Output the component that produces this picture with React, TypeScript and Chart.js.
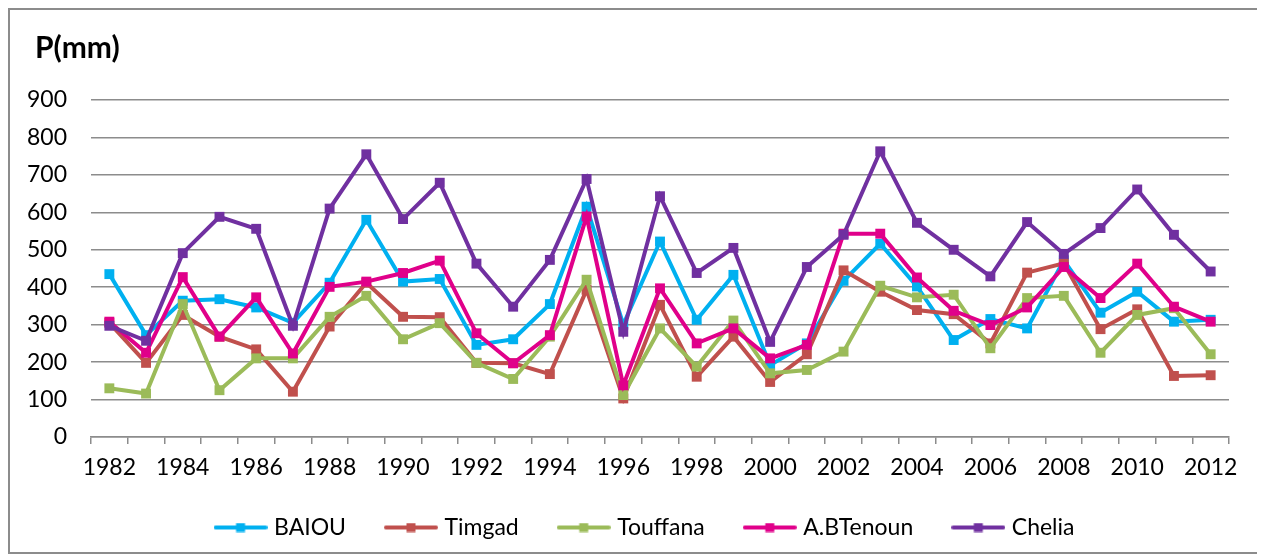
import React, { useEffect, useRef } from "react";
import { Chart, registerables } from "chart.js";

Chart.register(...registerables);

const years = [
  "1982", "1983", "1984", "1985", "1986", "1987", "1988", "1989", "1990", "1991",
  "1992", "1993", "1994", "1995", "1996", "1997", "1998", "1999", "2000", "2001",
  "2002", "2003", "2004", "2005", "2006", "2007", "2008", "2009", "2010", "2011", "2012",
];

const baiou = [435, 272, 364, 368, 346, 305, 412, 580, 415, 422, 246, 261, 355, 615, 300, 522, 313, 433, 192, 250, 417, 516, 402, 259, 315, 290, 472, 332, 388, 308, 313];
const timgad = [305, 198, 326, 268, 234, 121, 295, 412, 321, 320, 198, 197, 168, 393, 103, 353, 161, 268, 147, 221, 445, 388, 339, 328, 250, 439, 464, 288, 341, 163, 165];
const touffana = [130, 116, 355, 125, 210, 210, 321, 377, 261, 304, 198, 155, 268, 420, 112, 290, 188, 311, 170, 179, 228, 404, 373, 380, 237, 371, 377, 225, 326, 344, 221];
const abtenoun = [308, 225, 427, 268, 373, 223, 401, 415, 438, 471, 277, 197, 272, 589, 138, 397, 250, 290, 210, 246, 543, 543, 426, 337, 299, 346, 454, 371, 463, 348, 308];
const chelia = [297, 257, 491, 588, 556, 297, 610, 755, 582, 679, 463, 348, 473, 689, 281, 643, 438, 505, 254, 454, 540, 763, 572, 500, 429, 574, 489, 558, 661, 540, 442];

const seriesNames = ["BAIOU", "Timgad", "Touffana", "A.BTenoun", "Chelia"];
const seriesColors = ["#00B0F0", "#C0504D", "#9BBB59", "#E0008A", "#7030A0"];
const yTicks = [0, 100, 200, 300, 400, 500, 600, 700, 800, 900];

const FONT = "Lato, 'Open Sans', 'DejaVu Sans', sans-serif";
const GRID = "#8c8c8c";

function legendImage(color: string): HTMLCanvasElement {
  const c = document.createElement("canvas");
  c.width = 54;
  c.height = 10;
  const ctx = c.getContext("2d")!;
  ctx.strokeStyle = color;
  ctx.lineWidth = 4;
  ctx.lineCap = "round";
  ctx.beginPath();
  ctx.moveTo(2, 5);
  ctx.lineTo(52, 5);
  ctx.stroke();
  ctx.fillStyle = color;
  ctx.fillRect(22.5, 0.5, 9, 9);
  return c;
}

const titlePlugin = {
  id: "pTitle",
  afterLayout(chart: any) {
    const lg = chart.legend;
    if (lg) {
      lg.left += 27;
      lg.right += 27;
      lg.top -= 3;
      lg.bottom -= 3;
    }
  },
  afterDraw(chart: any) {
    const ctx = chart.ctx;
    ctx.save();
    ctx.font = `bold 30px ${FONT}`;
    ctx.fillStyle = "#000";
    ctx.textBaseline = "middle";
    ctx.textAlign = "left";
    ctx.fillText("P(mm)", 25, 38);
    ctx.restore();
  },
};

export default function App() {
  const ref = useRef<HTMLCanvasElement | null>(null);

  useEffect(() => {
    if (!ref.current) return;
    const values = [baiou, timgad, touffana, abtenoun, chelia];
    const imgs = seriesColors.map(legendImage);
    const defaultGen = (Chart as any).defaults.plugins.legend.labels.generateLabels;
    const chart = new Chart(ref.current, {
      type: "line",
      data: {
        labels: years,
        datasets: values.map((v, i) => ({
          label: seriesNames[i],
          data: v,
          borderColor: seriesColors[i],
          backgroundColor: seriesColors[i],
          borderWidth: 4,
          pointStyle: "rect",
          pointRadius: 7,
          pointHoverRadius: 7,
          pointBorderWidth: 0,
          tension: 0,
          fill: false,
          order: 5 - i,
        })),
      },
      options: {
        animation: false,
        responsive: false,
        devicePixelRatio: 1,
        layout: { padding: { left: 0, right: 31, top: 90, bottom: 0 } },
        plugins: {
          title: { display: false },
          tooltip: { enabled: false },
          legend: {
            display: true,
            position: "bottom",
            labels: {
              usePointStyle: true,
              pointStyleWidth: 44,
              padding: 43,
              color: "#000",
              font: { family: FONT, size: 23 },
              sort: (a: any, b: any) => a.datasetIndex - b.datasetIndex,
              generateLabels: (c: any) =>
                defaultGen(c).map((l: any) => ({ ...l, pointStyle: imgs[l.datasetIndex] })),
            },
          },
        },
        scales: {
          x: {
            type: "category",
            offset: true,
            grid: {
              display: true,
              drawOnChartArea: false,
              drawTicks: true,
              tickLength: 7,
              offset: true,
              color: GRID,
              lineWidth: 1.5,
            },
            border: { display: true, color: GRID, width: 1.5 },
            ticks: {
              autoSkip: false,
              maxRotation: 0,
              minRotation: 0,
              padding: 10,
              color: "#000",
              font: { family: FONT, size: 23 },
              callback: (_v: any, i: number) => (i % 2 === 0 ? years[i] : ""),
            },
            afterFit: (s: any) => {
              s.height = 39;
            },
          },
          y: {
            min: yTicks[0],
            max: yTicks[yTicks.length - 1],
            grid: { color: GRID, lineWidth: 1.5, drawTicks: false },
            border: { display: false },
            ticks: {
              stepSize: 100,
              padding: 24,
              color: "#000",
              font: { family: FONT, size: 23 },
            },
            afterFit: (s: any) => {
              s.width = 81;
            },
          },
        },
      },
      plugins: [titlePlugin],
    } as any);
    return () => chart.destroy();
  }, []);

  return (
    <div
      style={{
        width: 1254,
        height: 546,
        border: "2px solid #8c8c8c",
        boxSizing: "border-box",
        background: "#fff",
      }}
    >
      <canvas ref={ref} width={1250} height={542} style={{ display: "block" }} />
    </div>
  );
}
